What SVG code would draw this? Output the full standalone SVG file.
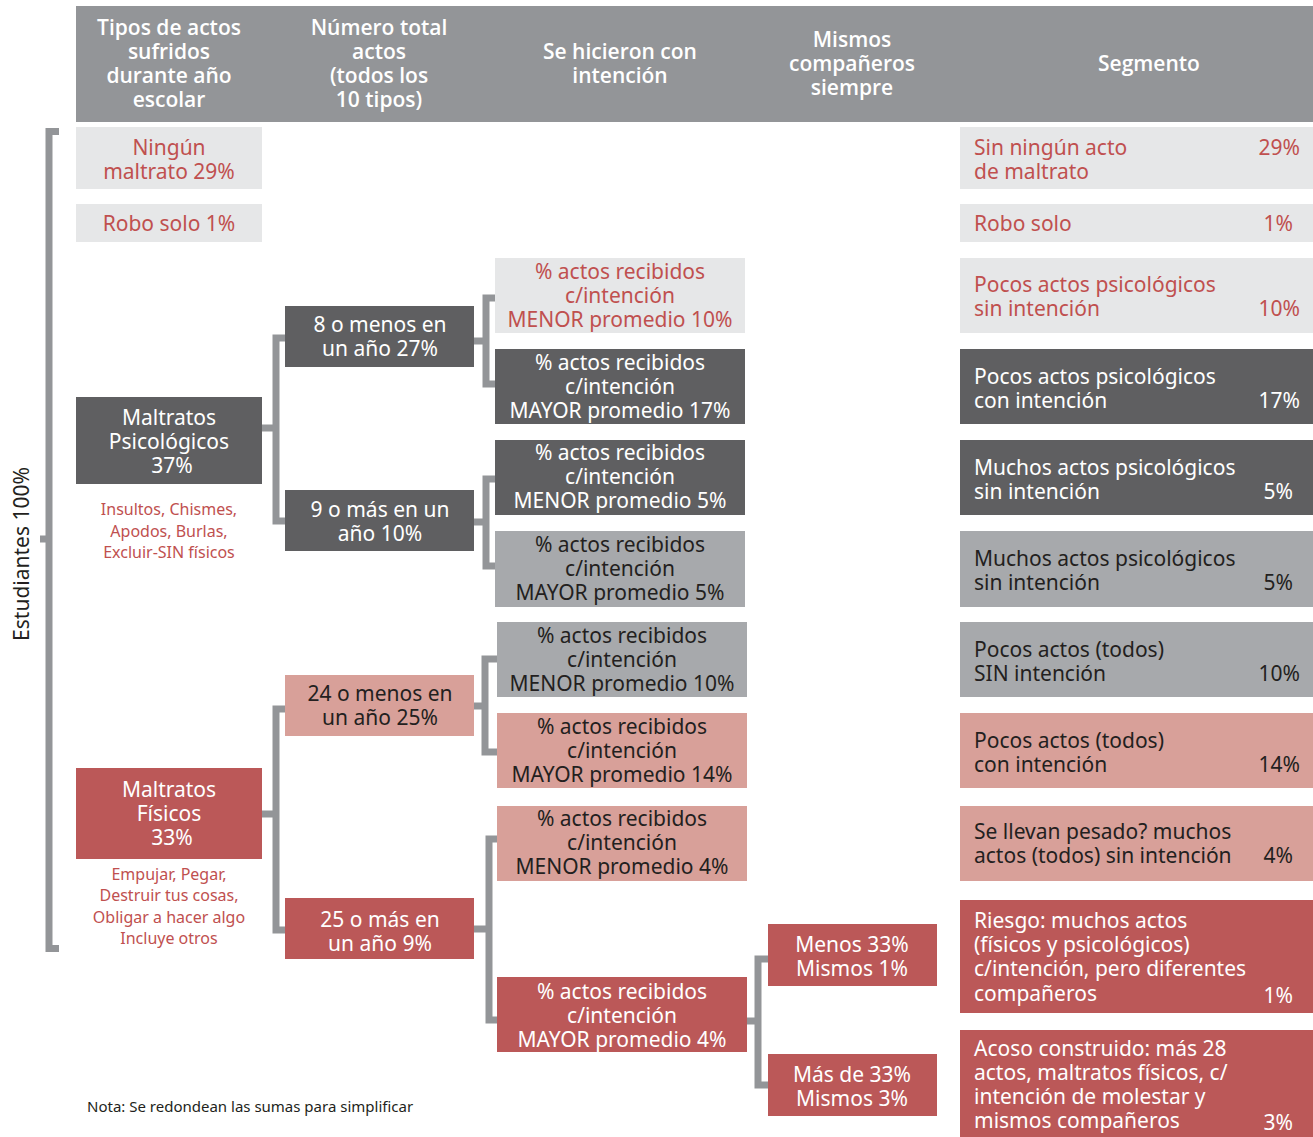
<svg xmlns="http://www.w3.org/2000/svg" width="1313" height="1137" viewBox="0 0 1313 1137">
<style>
text{font-family:"Noto Sans","Open Sans","Liberation Sans",sans-serif;font-size:21px}
.h{font-family:"Open Sans","Noto Sans","Liberation Sans",sans-serif;font-weight:600;font-size:21px;fill:#fff;text-anchor:middle}
.c{text-anchor:middle}
.e{text-anchor:end}
.w{fill:#fff}
.r{fill:#c0504f}
.k{fill:#231f20}
.s{font-size:16px;fill:#c0504f;text-anchor:middle}
.lt{fill:#e6e7e8}
.dk{fill:#5f5f61}
.md{fill:#a7a9ac}
.pk{fill:#d8a099}
.rd{fill:#bb5858}
.conn{fill:none;stroke:#939598;stroke-width:7;stroke-linejoin:miter}
</style>
<rect width="1313" height="1137" fill="#fff"/>
<g id="header">
<rect x="76" y="6" width="1237" height="116" fill="#939598"/>
<text class="h"><tspan x="169" y="35">Tipos de actos</tspan><tspan x="169" y="59">sufridos</tspan><tspan x="169" y="83">durante año</tspan><tspan x="169" y="107">escolar</tspan></text>
<text class="h"><tspan x="379" y="35">Número total</tspan><tspan x="379" y="59">actos</tspan><tspan x="379" y="83">(todos los</tspan><tspan x="379" y="107">10 tipos)</tspan></text>
<text class="h"><tspan x="620" y="59">Se hicieron con</tspan><tspan x="620" y="83">intención</tspan></text>
<text class="h"><tspan x="852" y="47">Mismos</tspan><tspan x="852" y="71">compañeros</tspan><tspan x="852" y="95">siempre</tspan></text>
<text class="h" x="1149" y="71">Segmento</text>
</g>
<g id="connectors">
<path class="conn" d="M59,131.5 H49 V948.5 H59 M40,539 H49"/>
<path class="conn" d="M262,428 H276 M285,338 H276 V521 H285"/>
<path class="conn" d="M262,814 H276 M285,709 H276 V930 H285"/>
<path class="conn" d="M474,341 H486 M495,298 H486 V384 H495"/>
<path class="conn" d="M474,522 H486 M495,479 H486 V566 H495"/>
<path class="conn" d="M474,706 H485 M497,659 H485 V752 H497"/>
<path class="conn" d="M474,929 H489 M497,839 H489 V1020 H497"/>
<path class="conn" d="M747,1021 H758 M768,959 H758 V1085 H768"/>
</g>
<g id="estudiantes"><text transform="translate(29,554) rotate(-90)" class="c k">Estudiantes 100%</text></g>
<g id="n-ninguno"><rect class="lt" x="76" y="127" width="186" height="62"/><text class="c r"><tspan x="169" y="155">Ningún</tspan><tspan x="169" y="179">maltrato 29%</tspan></text></g>
<g id="n-robo"><rect class="lt" x="76" y="204" width="186" height="38"/><text class="c r" x="169" y="231">Robo solo 1%</text></g>
<g id="n-psico"><rect class="dk" x="76" y="397" width="186" height="87"/><text class="c w"><tspan x="169" y="425">Maltratos</tspan><tspan x="169" y="449">Psicológicos</tspan><tspan x="172" y="473">37%</tspan></text>
<text class="s"><tspan x="169" y="515">Insultos, Chismes,</tspan><tspan x="169" y="537">Apodos, Burlas,</tspan><tspan x="169" y="558">Excluir-SIN físicos</tspan></text></g>
<g id="n-fisico"><rect class="rd" x="76" y="768" width="186" height="91"/><text class="c w"><tspan x="169" y="797">Maltratos</tspan><tspan x="169" y="821">Físicos</tspan><tspan x="172" y="845">33%</tspan></text>
<text class="s"><tspan x="169" y="880">Empujar, Pegar,</tspan><tspan x="169" y="901">Destruir tus cosas,</tspan><tspan x="169" y="923">Obligar a hacer algo</tspan><tspan x="169" y="944">Incluye otros</tspan></text></g>
<g id="n-8menos"><rect class="dk" x="285" y="306" width="189" height="61"/><text class="c w"><tspan x="380" y="332">8 o menos en</tspan><tspan x="380" y="356">un año 27%</tspan></text></g>
<g id="n-9mas"><rect class="dk" x="285" y="490" width="189" height="61"/><text class="c w"><tspan x="380" y="517">9 o más en un</tspan><tspan x="380" y="541">año 10%</tspan></text></g>
<g id="n-24menos"><rect class="pk" x="285" y="675" width="189" height="61"/><text class="c k"><tspan x="380" y="701">24 o menos en</tspan><tspan x="380" y="725">un año 25%</tspan></text></g>
<g id="n-25mas"><rect class="rd" x="285" y="898" width="189" height="61"/><text class="c w"><tspan x="380" y="927">25 o más en</tspan><tspan x="380" y="951">un año 9%</tspan></text></g>
<g id="n-a"><rect class="lt" x="495" y="258" width="250" height="75"/><text class="c r"><tspan x="620" y="279">% actos recibidos</tspan><tspan x="620" y="303">c/intención</tspan><tspan x="620" y="327">MENOR promedio 10%</tspan></text></g>
<g id="n-b"><rect class="dk" x="495" y="349" width="250" height="75"/><text class="c w"><tspan x="620" y="370">% actos recibidos</tspan><tspan x="620" y="394">c/intención</tspan><tspan x="620" y="418">MAYOR promedio 17%</tspan></text></g>
<g id="n-c"><rect class="dk" x="495" y="440" width="250" height="75"/><text class="c w"><tspan x="620" y="460">% actos recibidos</tspan><tspan x="620" y="484">c/intención</tspan><tspan x="620" y="508">MENOR promedio 5%</tspan></text></g>
<g id="n-d"><rect class="md" x="495" y="531" width="250" height="76"/><text class="c k"><tspan x="620" y="552">% actos recibidos</tspan><tspan x="620" y="576">c/intención</tspan><tspan x="620" y="600">MAYOR promedio 5%</tspan></text></g>
<g id="n-e"><rect class="md" x="497" y="622" width="250" height="75"/><text class="c k"><tspan x="622" y="643">% actos recibidos</tspan><tspan x="622" y="667">c/intención</tspan><tspan x="622" y="691">MENOR promedio 10%</tspan></text></g>
<g id="n-f"><rect class="pk" x="497" y="713" width="250" height="75"/><text class="c k"><tspan x="622" y="734">% actos recibidos</tspan><tspan x="622" y="758">c/intención</tspan><tspan x="622" y="782">MAYOR promedio 14%</tspan></text></g>
<g id="n-g"><rect class="pk" x="497" y="806" width="250" height="75"/><text class="c k"><tspan x="622" y="826">% actos recibidos</tspan><tspan x="622" y="850">c/intención</tspan><tspan x="622" y="874">MENOR promedio 4%</tspan></text></g>
<g id="n-h"><rect class="rd" x="497" y="977" width="250" height="75"/><text class="c w"><tspan x="622" y="999">% actos recibidos</tspan><tspan x="622" y="1023">c/intención</tspan><tspan x="622" y="1047">MAYOR promedio 4%</tspan></text></g>
<g id="n-menos33"><rect class="rd" x="768" y="924" width="169" height="62"/><text class="c w"><tspan x="852" y="952">Menos 33%</tspan><tspan x="852" y="976">Mismos 1%</tspan></text></g>
<g id="n-mas33"><rect class="rd" x="768" y="1054" width="169" height="62"/><text class="c w"><tspan x="852" y="1082">Más de 33%</tspan><tspan x="852" y="1106">Mismos 3%</tspan></text></g>
<g id="s1"><rect class="lt" x="960" y="127" width="353" height="62"/><text class="r"><tspan x="974" y="155">Sin ningún acto</tspan><tspan x="974" y="179">de maltrato</tspan></text><text class="r e" x="1300" y="155">29%</text></g>
<g id="s2"><rect class="lt" x="960" y="204" width="353" height="38"/><text class="r" x="974" y="231">Robo solo</text><text class="r e" x="1293" y="231">1%</text></g>
<g id="s3"><rect class="lt" x="960" y="258" width="353" height="75"/><text class="r"><tspan x="974" y="292">Pocos actos psicológicos</tspan><tspan x="974" y="316">sin intención</tspan></text><text class="r e" x="1300" y="316">10%</text></g>
<g id="s4"><rect class="dk" x="960" y="349" width="353" height="75"/><text class="w"><tspan x="974" y="384">Pocos actos psicológicos</tspan><tspan x="974" y="408">con intención</tspan></text><text class="w e" x="1300" y="408">17%</text></g>
<g id="s5"><rect class="dk" x="960" y="440" width="353" height="75"/><text class="w"><tspan x="974" y="475">Muchos actos psicológicos</tspan><tspan x="974" y="499">sin intención</tspan></text><text class="w e" x="1293" y="499">5%</text></g>
<g id="s6"><rect class="md" x="960" y="531" width="353" height="76"/><text class="k"><tspan x="974" y="566">Muchos actos psicológicos</tspan><tspan x="974" y="590">sin intención</tspan></text><text class="k e" x="1293" y="590">5%</text></g>
<g id="s7"><rect class="md" x="960" y="622" width="353" height="75"/><text class="k"><tspan x="974" y="657">Pocos actos (todos)</tspan><tspan x="974" y="681">SIN intención</tspan></text><text class="k e" x="1300" y="681">10%</text></g>
<g id="s8"><rect class="pk" x="960" y="713" width="353" height="75"/><text class="k"><tspan x="974" y="748">Pocos actos (todos)</tspan><tspan x="974" y="772">con intención</tspan></text><text class="k e" x="1300" y="772">14%</text></g>
<g id="s9"><rect class="pk" x="960" y="806" width="353" height="75"/><text class="k"><tspan x="974" y="839">Se llevan pesado? muchos</tspan><tspan x="974" y="863">actos (todos) sin intención</tspan></text><text class="k e" x="1293" y="863">4%</text></g>
<g id="s10"><rect class="rd" x="960" y="900" width="353" height="113"/><text class="w"><tspan x="974" y="928">Riesgo: muchos actos</tspan><tspan x="974" y="952">(físicos y psicológicos)</tspan><tspan x="974" y="976">c/intención, pero diferentes</tspan><tspan x="974" y="1001">compañeros</tspan></text><text class="w e" x="1293" y="1003">1%</text></g>
<g id="s11"><rect class="rd" x="960" y="1030" width="353" height="107"/><text class="w"><tspan x="974" y="1056">Acoso construido: más 28</tspan><tspan x="974" y="1080">actos, maltratos físicos, c/</tspan><tspan x="974" y="1104">intención de molestar y</tspan><tspan x="974" y="1128">mismos compañeros</tspan></text><text class="w e" x="1293" y="1130">3%</text></g>
<g id="nota"><text class="k" x="87" y="1112" style="font-size:15px">Nota: Se redondean las sumas para simplificar</text></g>
</svg>
